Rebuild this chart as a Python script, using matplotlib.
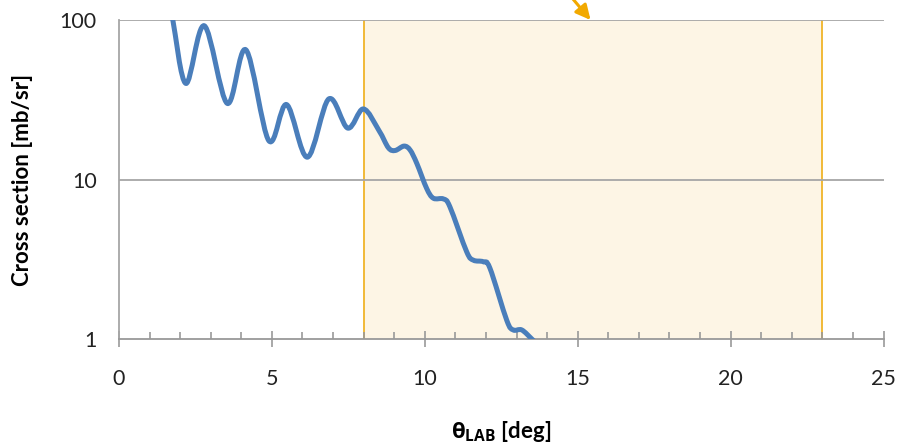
import numpy as np
import matplotlib
matplotlib.use("Agg")
import matplotlib.pyplot as plt
from matplotlib.path import Path
from matplotlib.patches import PathPatch

plt.rcParams['font.family'] = ['Lato', 'DejaVu Sans']
plt.rcParams['mathtext.fontset'] = 'custom'
plt.rcParams['mathtext.bf'] = 'Open Sans:bold'
plt.rcParams['mathtext.rm'] = 'Open Sans'

# angle [deg] and cross section [mb/sr]
theta = [1.62, 1.76, 2.19, 2.79, 3.54, 4.15, 4.90, 5.48, 6.16, 6.86, 7.48, 7.99,
         8.50, 8.81, 9.03, 9.32, 9.52, 9.74, 10.06, 10.28, 10.61, 10.82,
         11.37, 11.59, 11.91, 12.13, 12.68, 12.89, 13.17, 13.50, 13.62]
xsec = [135, 100, 40, 92, 30, 65, 17.5, 29.5, 13.8, 32, 21, 27.7,
        20.3, 15.8, 15.2, 16.2, 15.3, 12.6, 8.8, 7.63, 7.55, 6.75,
        3.52, 3.12, 3.05, 2.78, 1.31, 1.14, 1.14, 1.0, 0.95]

window = (8, 23)
xticks = [0, 5, 10, 15, 20, 25]
yticks = [1, 10, 100]


def smooth_path(x, y):
    # Excel-style smoothed line: Catmull-Rom segments as cubic Beziers in (x, log y)
    x = np.asarray(x, float)
    ly = np.log10(y)
    n = len(x)
    verts = [(x[0], ly[0])]
    codes = [Path.MOVETO]
    for i in range(n - 1):
        p0 = np.array([x[max(i - 1, 0)], ly[max(i - 1, 0)]])
        p1 = np.array([x[i], ly[i]])
        p2 = np.array([x[i + 1], ly[i + 1]])
        p3 = np.array([x[min(i + 2, n - 1)], ly[min(i + 2, n - 1)]])
        c1 = p1 + (p2 - p0) / 6
        c2 = p2 - (p3 - p1) / 6
        verts += [tuple(c1), tuple(c2), tuple(p2)]
        codes += [Path.CURVE4] * 3
    verts = [(vx, 10 ** vy) for vx, vy in verts]
    return Path(verts, codes)


fig = plt.figure(figsize=(8.98, 4.46), dpi=100)
ax = fig.add_axes([119 / 898, 1 - 339 / 446, (883.5 - 119) / 898, (339 - 20) / 446])

ax.set_yscale('log')
ax.set_xlim(0, 25)
ax.set_ylim(1, 100)

ax.axvspan(window[0], window[1], facecolor='#FDF5E5', edgecolor='none', zorder=0)
for xv in window:
    ax.axvline(xv, color='#F0B429', lw=1.3, zorder=1)

for yv in yticks[1:]:
    ax.axhline(yv, color='#a6a6a6', lw=1.3, zorder=1)

patch = PathPatch(smooth_path(theta, xsec), facecolor='none', edgecolor='#4A7EBB',
                  lw=3.6, capstyle='round', joinstyle='round', zorder=3)
ax.add_patch(patch)

ax.annotate('', xy=(15.42, 100), xytext=(14.6, 154), xycoords='data',
            annotation_clip=False,
            arrowprops=dict(arrowstyle='-|>', color='#F2A900', lw=2.2,
                            mutation_scale=22, shrinkA=0, shrinkB=0))

for s in ['top', 'right']:
    ax.spines[s].set_visible(False)
ax.spines['left'].set_color('#a6a6a6')
ax.spines['bottom'].set_color('#999999')
ax.spines['left'].set_linewidth(1.3)
ax.spines['bottom'].set_linewidth(1.3)

ax.set_xticks(xticks)
ax.set_xticks(np.arange(0, 26, 1), minor=True)
ax.set_yticks(yticks)
ax.set_yticklabels([str(v) for v in yticks])
ax.yaxis.set_minor_locator(matplotlib.ticker.NullLocator())
ax.tick_params(axis='x', which='major', direction='inout', length=11, width=1.2,
               color='#999999', labelsize=15.5, pad=16, labelcolor='#222222')
ax.tick_params(axis='x', which='minor', direction='in', length=5, width=1.2,
               color='#999999')
ax.tick_params(axis='y', which='major', length=0, labelsize=15.5, pad=16,
               labelcolor='#222222')

ax.set_ylabel('Cross section [mb/sr]', fontsize=16, fontweight='bold')
ax.yaxis.set_label_coords(-0.126, 0.5)
ax.yaxis.label.set_va('center')
ax.set_xlabel(r'$\mathbf{\theta}_{\mathbf{LAB}}$ [deg]', fontsize=16, fontweight='bold')
ax.xaxis.set_label_coords(0.5, -0.29)
ax.xaxis.label.set_va('center')

fig.savefig('out.png', dpi=100)
